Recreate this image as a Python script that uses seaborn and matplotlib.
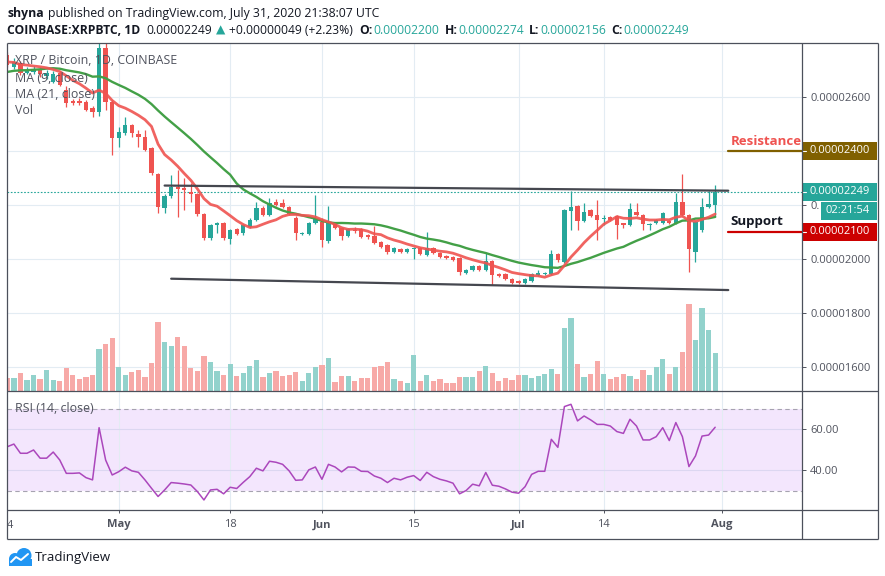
import numpy as np
import pandas as pd
import matplotlib
matplotlib.use("Agg")
import matplotlib.pyplot as plt
import matplotlib.dates as mdates
import matplotlib.transforms as mtransforms
from matplotlib.patches import Rectangle, Circle
import seaborn as sns

sns.set_style("white")
plt.rcParams['font.family'] = ['Open Sans', 'DejaVu Sans']

# ---------------- data: XRP/BTC daily, prices in satoshi (1e-8 BTC) ----------------
first_day = "2020-04-14"

opens = [2756, 2711, 2725, 2690, 2692, 2705, 2676, 2656, 2689, 2626, 2585, 2585, 2581, 2559, 2544, 2781, 2581,
         2448, 2467, 2496, 2463, 2452, 2411, 2315, 2189, 2233, 2267, 2263, 2248, 2241, 2167, 2078, 2126,
         2133, 2074, 2111, 2096, 2119, 2144, 2189, 2163, 2211, 2207, 2193, 2152, 2093, 2093, 2133,
         2137, 2067, 2133, 2115, 2085, 2107, 2111, 2089, 2085, 2063, 2052, 2026, 2037, 2026, 2037,
         2041, 2015, 2041, 2022, 2011, 2007, 2004, 1948, 1959, 1974, 1959, 1993, 1944, 1944, 1926,
         1919, 1911, 1919, 1941, 1944, 1944, 2019, 1989, 2178, 2196, 2141, 2181, 2163, 2148, 2156,
         2159, 2133, 2126, 2174, 2163, 2126, 2133, 2133, 2141, 2133, 2211, 2163, 2026, 2107, 2193, 2200]
highs = [2765, 2745, 2735, 2712, 2715, 2712, 2700, 2695, 2695, 2640, 2592, 2595, 2590, 2565, 2830, 2840, 2590,
         2489, 2526, 2500, 2478, 2478, 2415, 2320, 2240, 2311, 2330, 2300, 2281, 2245, 2170, 2130, 2137,
         2137, 2110, 2115, 2130, 2150, 2211, 2195, 2226, 2222, 2222, 2196, 2160, 2100, 2137, 2237,
         2150, 2196, 2137, 2118, 2115, 2119, 2115, 2092, 2122, 2066, 2055, 2045, 2040, 2040, 2045,
         2045, 2100, 2045, 2026, 2014, 2010, 2007, 1963, 1978, 1978, 2022, 1996, 1948, 1948, 1930,
         1922, 1930, 1948, 1959, 1952, 2033, 2022, 2185, 2252, 2200, 2207, 2185, 2218, 2163, 2160,
         2163, 2135, 2207, 2207, 2167, 2133, 2148, 2174, 2145, 2244, 2315, 2167, 2140, 2226, 2252, 2274]
lows = [2710, 2705, 2680, 2684, 2685, 2675, 2668, 2650, 2640, 2563, 2570, 2570, 2548, 2526, 2530, 2552, 2385,
        2415, 2460, 2452, 2415, 2400, 2310, 2170, 2170, 2225, 2156, 2181, 2211, 2160, 2070, 2070, 2096,
        2070, 2056, 2088, 2090, 2115, 2140, 2158, 2160, 2195, 2188, 2163, 2070, 2088, 2090, 2130,
        2044, 2060, 2110, 2070, 2080, 2098, 2077, 2075, 2055, 2040, 2019, 2022, 2022, 2022, 2000,
        2015, 2012, 2018, 2004, 2000, 1993, 1941, 1944, 1955, 1955, 1955, 1904, 1933, 1922, 1907,
        1907, 1907, 1915, 1937, 1941, 1940, 1990, 1985, 2107, 2107, 2137, 2155, 2070, 2126, 2140,
        2074, 2115, 2122, 2159, 2107, 2107, 2130, 2130, 2130, 2130, 2160, 1952, 1989, 2100, 2190, 2156]
closes = [2719, 2730, 2690, 2700, 2705, 2685, 2689, 2685, 2644, 2578, 2578, 2578, 2552, 2544, 2781, 2581, 2448,
          2470, 2496, 2467, 2452, 2404, 2319, 2193, 2233, 2267, 2259, 2256, 2241, 2167, 2078, 2126, 2133,
          2078, 2107, 2093, 2126, 2144, 2189, 2163, 2207, 2200, 2193, 2167, 2096, 2096, 2133, 2148,
          2070, 2133, 2115, 2085, 2111, 2103, 2081, 2081, 2059, 2044, 2026, 2041, 2026, 2037, 2041,
          2019, 2041, 2022, 2007, 2004, 1996, 1952, 1959, 1974, 1959, 1993, 1941, 1937, 1926, 1911,
          1911, 1926, 1944, 1948, 1948, 2019, 1996, 2181, 2193, 2141, 2174, 2159, 2144, 2152, 2144,
          2126, 2126, 2185, 2163, 2130, 2130, 2144, 2170, 2133, 2211, 2163, 2037, 2137, 2193, 2204, 2249]
# closes before Apr 14 (only used to warm up the moving averages)
pre_closes = [2640, 2655, 2690, 2670, 2650, 2630, 2660, 2680, 2700, 2660, 2665, 2680,
              2745, 2760, 2720, 2735, 2710, 2725, 2740, 2714]
volume = [13, 13, 18, 11, 16, 12, 21, 11, 10, 23, 16, 12, 14, 16, 42, 47, 53,
          24, 16, 19, 21, 14, 28, 69, 49, 45, 54, 45, 23, 20, 35, 29, 20, 16, 27, 15, 18,
          25, 31, 14, 18, 20, 15, 16, 19, 10, 18, 24,
          26, 33, 9, 15, 15, 10, 13, 13, 24, 25, 29, 12, 10, 8, 36, 10, 16, 10, 12, 8,
          8, 14, 14, 14, 20, 25, 18, 10, 13, 11,
          16, 16, 13, 15, 17, 22, 17, 63, 73, 27, 14, 17, 30, 17, 12, 14, 17, 15, 12, 21,
          16, 24, 32, 17, 24, 39, 87, 51, 83, 61, 38]
rsi = [51.5, 52.8, 48.3, 48.3, 49.9, 45.9, 45.9, 48.9, 45.0, 38.5, 38.5, 38.7, 36.4, 35.3, 60.8, 45.0, 37.7,
       39.3, 41.5, 39.7, 39.0, 35.3, 31.2, 27.2, 30.4, 34.0, 33.7, 33.3, 32.8, 29.6, 25.5, 30.4, 30.7,
       28.5, 31.7, 31.1, 34.1, 36.9, 41.0, 39.7, 44.4, 43.9, 42.9, 39.7, 35.1, 35.3, 40.2, 41.6,
       35.6, 42.9, 41.6, 39.2, 41.6, 41.5, 39.5, 39.4, 37.2, 36.1, 34.0, 36.1, 35.3, 36.6, 37.4,
       35.0, 39.0, 36.9, 35.6, 34.8, 33.7, 28.5, 30.1, 33.2, 32.4, 38.9, 32.7, 32.2, 30.9, 29.3,
       28.8, 32.0, 38.0, 39.5, 39.5, 55.1, 51.2, 71.1, 72.2, 64.1, 66.5, 64.6, 62.4, 62.4, 61.6,
       58.9, 58.0, 64.9, 61.6, 54.8, 54.8, 56.4, 60.8, 54.5, 63.3, 56.4, 41.8, 47.0, 56.7, 57.2, 61.0]

# drawn levels / trend lines
upper_trend_dates = ["2020-05-08", "2020-08-02"]
upper_trend_price = [2272, 2253]
lower_trend_dates = ["2020-05-09", "2020-08-02"]
lower_trend_price = [1927, 1885]
resistance = 2400
support = 2100

tick_dates = ["2020-05-01", "2020-05-18", "2020-06-01", "2020-06-15", "2020-07-01", "2020-07-14", "2020-08-01"]
tick_labels = ["May", "18", "Jun", "15", "Jul", "14", "Aug"]
price_ticks = [1600, 1800, 2000, 2200, 2400, 2600]
# 2400 sits under the resistance tag, 2200 is mostly hidden by the countdown tag
price_tick_labels = ["0.00001600", "0.00001800", "0.00002000", "0.", "", "0.00002600"]

n = len(closes)
assert all(len(a) == n for a in (opens, highs, lows, volume, rsi)), [len(a) for a in (opens, highs, lows, closes, volume, rsi)]

UP = "#26a69a"
DOWN = "#ef5350"
TXT = "#50535e"
DARK = "#131722"
GRID = "#e3ecf3"

dates = pd.date_range(first_day, periods=n, freq="D")
xnum = mdates.date2num(dates)
o, h, l, c = (np.array(a, dtype=float) for a in (opens, highs, lows, closes))
up = c >= o

# ---------------- figure layout (pixel boxes of the TradingView panes) ----------------
W, H = 885, 576
fig = plt.figure(figsize=(W / 100, H / 100), dpi=100)


def box(x0, y0, x1, y1):
    return [x0 / W, 1 - y1 / H, (x1 - x0) / W, (y1 - y0) / H]


ax = fig.add_axes(box(7, 43, 802, 391))
axv = fig.add_axes(box(7, 43, 802, 391), sharex=ax)
axr = fig.add_axes(box(7, 391, 802, 510), sharex=ax)

x0 = xnum[0] - 0.05
x1 = x0 + 795 / 6.554
ax.set_xlim(x0, x1)
ax.set_ylim(1511.1, 2800)

# ---------------- candles ----------------
col = np.where(up, UP, DOWN)
ax.vlines(xnum, l, h, colors=col, linewidth=0.9, zorder=3)
diff = np.abs(c - o)
bh = np.maximum(diff, 3.7)
bottom = np.minimum(o, c) - (bh - diff) / 2
ax.bar(xnum, bh, bottom=bottom, width=0.66, color=col, linewidth=0, zorder=4)

# moving averages
allc = pd.Series(pre_closes + closes, dtype=float)
ma9 = allc.rolling(9).mean().iloc[len(pre_closes):].to_numpy()
ma21 = allc.rolling(21).mean().iloc[len(pre_closes):].to_numpy()
sns.lineplot(x=xnum, y=ma21, ax=ax, color="#43a047", linewidth=1.7, zorder=5)
sns.lineplot(x=xnum, y=ma9, ax=ax, color="#ef5350", linewidth=2.0, alpha=0.9, zorder=5)

# trend lines
ax.plot(mdates.date2num(pd.to_datetime(upper_trend_dates)), upper_trend_price, color="#45474f", lw=1.6, zorder=6)
ax.plot(mdates.date2num(pd.to_datetime(lower_trend_dates)), lower_trend_price, color="#45474f", lw=1.6, zorder=6)

# last price line
ax.axhline(closes[-1], color=UP, lw=0.8, ls=(0, (1.5, 1.5)), zorder=2)

# resistance / support
lvl_x = mdates.date2num(pd.Timestamp("2020-08-02"))
ax.plot([lvl_x, x1], [resistance, resistance], color="#806000", lw=1.6, zorder=6, clip_on=False)
ax.plot([lvl_x, x1], [support, support], color="#cc0000", lw=1.6, zorder=6, clip_on=False)
ax.annotate("Resistance", xy=(lvl_x, resistance), xytext=(1.5, 2.5), textcoords="offset points",
            color="#ef5350", fontsize=9.5, fontweight="bold", va="bottom", ha="left")
ax.annotate("Support", xy=(lvl_x, support), xytext=(1.5, 3.0), textcoords="offset points",
            color=DARK, fontsize=9.5, fontweight="bold", va="bottom", ha="left")

# price axis
ax.yaxis.tick_right()
ax.set_yticks(price_ticks)
ax.set_yticklabels(price_tick_labels)
ax.tick_params(axis="y", right=True, left=False, length=2.9, width=0.7, colors=TXT, labelsize=8, pad=2.9)
ax.tick_params(axis="x", bottom=False, labelbottom=False)
ax.grid(True, color=GRID, lw=0.8)
ax.set_xlabel("")
ax.set_ylabel("")
for s in ax.spines.values():
    s.set_visible(False)

blend = mtransforms.blended_transform_factory(ax.transAxes, ax.transData)
bw = 75 / 795


def price_box(y, hh, color, label, left=0, tx=8):
    ax.add_patch(Rectangle((1 + left / 795, y - hh / 2), bw - left / 795, hh, transform=blend,
                           facecolor=color, lw=0, clip_on=False, zorder=10))
    ax.text(1 + tx / 795, y, label, transform=blend, color="white", fontsize=8,
            va="center", ha="left", zorder=11, clip_on=False)
    if left == 0:
        ax.plot([1, 1 + 4 / 795], [y, y], transform=blend, color="white", lw=0.8, clip_on=False, zorder=11)


price_box(resistance, 70, "#806000", f"{resistance / 1e8:.8f}")
price_box(closes[-1], 67, UP, f"{closes[-1] / 1e8:.8f}")
price_box(2178, 64, UP, "02:21:54", left=19, tx=24)
price_box(support, 67, "#cc0000", f"{support / 1e8:.8f}")

# ---------------- volume ----------------
vcol = np.where(up, "#92d2cc", "#f7a9a7")
axv.bar(xnum, volume, width=0.8, color=vcol, linewidth=0)
axv.set_ylim(0, 348)
axv.axis("off")

# ---------------- RSI ----------------
axr.axhspan(30, 70, color="#f3e6fd", zorder=0.2, lw=0)
axr.axhline(70, color="#a6a3b0", lw=0.8, ls=(0, (4, 3)), zorder=1)
axr.axhline(30, color="#a6a3b0", lw=0.8, ls=(0, (4, 3)), zorder=1)
sns.lineplot(x=xnum, y=rsi, ax=axr, color="#ab47bc", linewidth=1.1, zorder=3)
axr.set_ylim(20.6, 78.7)
axr.yaxis.tick_right()
axr.set_yticks([40, 60])
axr.set_yticklabels(["40.00", "60.00"])
axr.tick_params(axis="y", right=True, left=False, length=2.9, width=0.7, colors=TXT, labelsize=8, pad=2.9)
axr.grid(True, axis="y", color="#dcd7f1", lw=0.8)
axr.grid(True, axis="x", color=GRID, lw=0.8)
axr.set_xticks(mdates.date2num(pd.to_datetime(tick_dates)))
axr.set_xticklabels(tick_labels)
axr.tick_params(axis="x", bottom=True, length=2.2, width=0.7, colors=TXT, labelsize=8, pad=4.5)
for lab in axr.get_xticklabels():
    if lab.get_text().isalpha():
        lab.set_fontweight("bold")
axr.set_xlim(x0, x1)
axr.set_xlabel("")
axr.set_ylabel("")
for s in axr.spines.values():
    s.set_visible(False)

# ---------------- frame, header and labels ----------------
ov = fig.add_axes([0, 0, 1, 1])
ov.set_xlim(0, W)
ov.set_ylim(H, 0)
ov.axis("off")
fc = "#4c505b"
for (xa, ya, xb, yb) in [(7, 43, 878, 43), (7, 539, 878, 539), (7, 43, 7, 539), (878, 43, 878, 539),
                         (802, 43, 802, 539), (7, 391, 878, 391), (7, 510, 878, 510)]:
    ov.plot([xa, xb], [ya, yb], color=fc, lw=0.9, solid_capstyle="butt")

renderer = fig.canvas.get_renderer()


def text_run(x, y, parts, size):
    for s, weight, color, gap in parts:
        t = ov.text(x, y, s, fontsize=size, fontweight=weight, color=color, va="center", ha="left")
        x += t.get_window_extent(renderer=renderer).width + gap


text_run(7, 13, [("shyna", "bold", DARK, 4),
                 ("published on TradingView.com, July 31, 2020 21:38:07 UTC", "normal", DARK, 0)], 8.8)
text_run(7, 30, [("COINBASE:XRPBTC, 1D", "bold", DARK, 6),
                 ("0.00002249", "normal", DARK, 4),
                 ("▲", "normal", UP, 4),
                 ("+0.00000049 (+2.23%)", "normal", DARK, 6),
                 ("O:", "bold", DARK, 1), ("0.00002200", "normal", UP, 5),
                 ("H:", "bold", DARK, 1), ("0.00002274", "normal", UP, 5),
                 ("L:", "bold", DARK, 1), ("0.00002156", "normal", UP, 5),
                 ("C:", "bold", DARK, 1), ("0.00002249", "normal", UP, 0)], 8.75)

ov.text(15, 60, "XRP / Bitcoin, 1D, COINBASE", fontsize=8.9, color=TXT, va="center")
ov.text(15, 78, "MA (9, close)", fontsize=8.9, color=TXT, va="center")
ov.text(15, 95, "MA (21, close)", fontsize=8.9, color=TXT, va="center")
ov.text(15, 111, "Vol", fontsize=8.9, color=TXT, va="center")
ov.text(15, 409, "RSI (14, close)", fontsize=8.9, color=TXT, va="center")
ov.text(7, 526, "4", fontsize=8, color=TXT, va="center", ha="left")

# TradingView logo
blue = "#2196f3"
ov.add_patch(Circle((15, 559), 6, color=blue, lw=0))
ov.add_patch(Circle((24, 555.5), 7.5, color=blue, lw=0))
ov.add_patch(Rectangle((9, 559), 23, 6.5, color=blue, lw=0))
ov.plot([11, 16, 21, 28], [562, 557, 560, 554], color="white", lw=1.4)
ov.text(35, 557, "TradingView", fontsize=9.5, color=DARK, va="center", ha="left")

fig.savefig("out.png", dpi=100)
